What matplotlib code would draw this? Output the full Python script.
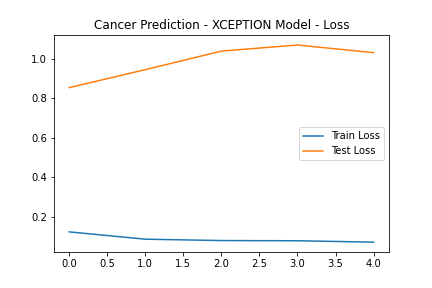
import matplotlib
matplotlib.use("Agg")
import matplotlib.pyplot as plt

epochs = [0, 1, 2, 3, 4]
train_loss = [0.124, 0.087, 0.080, 0.079, 0.072]
test_loss = [0.855, 0.946, 1.040, 1.071, 1.032]

plt.figure(figsize=(6, 4), dpi=72)
plt.plot(epochs, train_loss, label="Train Loss")
plt.plot(epochs, test_loss, label="Test Loss")
plt.title("Cancer Prediction - XCEPTION Model - Loss")
plt.legend(loc="center right")
plt.subplots_adjust(bottom=0.125, top=0.878)
plt.savefig("out.png")
